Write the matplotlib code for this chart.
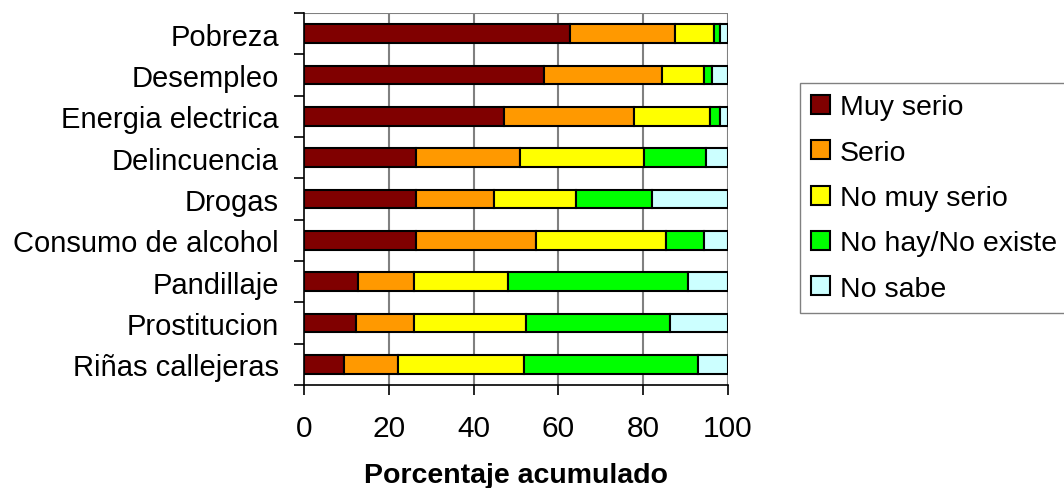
import numpy as np
import matplotlib.pyplot as plt
from matplotlib.ticker import FixedLocator

plt.rcParams['font.family'] = ['Liberation Sans', 'DejaVu Sans']

# Categories, top to bottom as in the chart
categorias = ['Pobreza', 'Desempleo', 'Energia electrica', 'Delincuencia', 'Drogas',
              'Consumo de alcohol', 'Pandillaje', 'Prostitucion', 'Riñas callejeras']

# Percentages per answer (same order as categorias)
muy_serio = [62.8, 56.6, 47.1, 26.4, 26.4, 26.4, 12.8, 12.3, 9.4]
serio = [24.6, 27.9, 30.8, 24.5, 18.4, 28.4, 13.2, 13.7, 12.8]
no_muy_serio = [9.4, 9.8, 17.9, 29.4, 19.3, 30.6, 22.2, 26.4, 29.6]
no_hay = [1.3, 1.9, 2.4, 14.6, 18.0, 8.9, 42.4, 34.0, 41.2]
no_sabe = [1.9, 3.8, 1.8, 5.1, 17.9, 5.7, 9.4, 13.6, 7.0]

series = [muy_serio, serio, no_muy_serio, no_hay, no_sabe]
nombres = ['Muy serio', 'Serio', 'No muy serio', 'No hay/No existe', 'No sabe']
colores = ['#800000', '#FF9900', '#FFFF00', '#00FF00', '#CCFFFF']

fig = plt.figure(figsize=(10.64, 4.89), dpi=100)
ax = fig.add_axes([304 / 1064, 1 - 386 / 489, 424 / 1064, 372 / 489])

y = np.arange(len(categorias))[::-1]
left = np.zeros(len(categorias))
for vals, nombre, color in zip(series, nombres, colores):
    vals = np.array(vals)
    ax.barh(y, vals, left=left, height=0.45, color=color, edgecolor='black',
            linewidth=1.5, label=nombre, zorder=3)
    left += vals

ax.set_xlim(0, 100)
ax.set_ylim(-0.5, len(categorias) - 0.5)

# gridlines and frame
for xv in [20, 40, 60, 80, 100]:
    ax.axvline(xv, color='#808080', linewidth=1.5, zorder=1)
ax.axhline(len(categorias) - 0.5, color='#808080', linewidth=1.5, zorder=1)
ax.spines['top'].set_visible(False)
ax.spines['right'].set_visible(False)
ax.spines['left'].set_linewidth(1.2)
ax.spines['bottom'].set_linewidth(1.2)

ax.set_xticks([0, 20, 40, 60, 80, 100])
ax.tick_params(axis='x', labelsize=21.5, length=7, width=1.2, pad=14)
ax.set_yticks(y)
ax.set_yticklabels(categorias)
ax.tick_params(axis='y', which='major', labelsize=21, length=0, pad=18)
ax.yaxis.set_minor_locator(FixedLocator(np.arange(-0.5, len(categorias), 1.0)))
ax.tick_params(axis='y', which='minor', length=7, width=1.2)

ax.set_xlabel('Porcentaje acumulado', fontsize=20.5, fontweight='bold', labelpad=14)

leg = ax.legend(loc='upper left', bbox_to_anchor=(800 / 1064, 1 - 84 / 489),
                bbox_transform=fig.transFigure, fontsize=20.5, frameon=True,
                fancybox=False, handlelength=0.65, handleheight=0.65,
                handletextpad=0.35, labelspacing=0.68, borderpad=0.4,
                borderaxespad=0)
leg.get_frame().set_edgecolor('#606060')
leg.get_frame().set_linewidth(1.0)

fig.savefig('out.png', dpi=100)
